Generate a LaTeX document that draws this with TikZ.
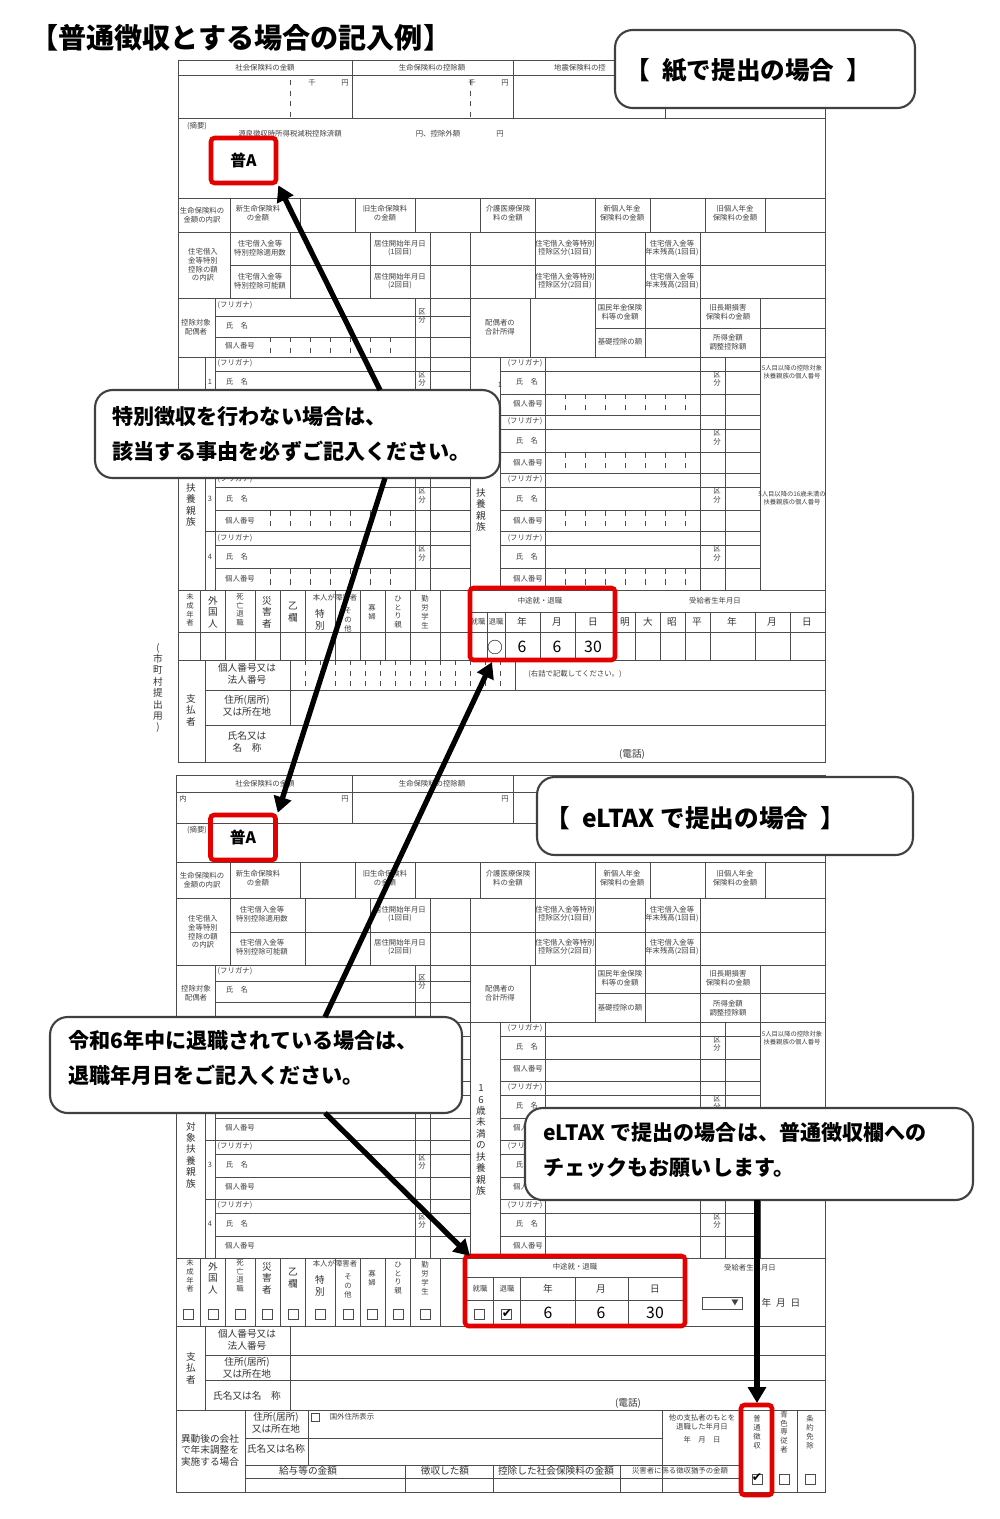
\documentclass[tikz,border=0pt]{standalone}
\usepackage{fontspec}
\setmainfont{Noto Sans CJK JP}
\newfontfamily\symfont{DejaVu Sans}
\usetikzlibrary{arrows.meta}
\begin{document}
\begin{tikzpicture}[x=0.02cm,y=-0.02cm,
  fl/.style={draw=black!70,line width=0.4pt},
  ft/.style={font=\fontsize{4.2}{5}\selectfont,text=black!75,inner sep=0pt},
  fs/.style={font=\fontsize{5.5}{6.5}\selectfont,text=black!80,inner sep=0pt},
  redbox/.style={draw=red!90!black,line width=2.6pt,rounded corners=2pt},
  callout/.style={draw=black!75,line width=1.2pt,fill=white,rounded corners=10pt},
  ctext/.style={font=\fontsize{12}{20}\selectfont\bfseries,align=left,anchor=west,inner sep=0pt},
  chk/.style={font=\symfont\fontsize{7}{8}\selectfont,inner sep=0pt},
  arr/.style={line width=3pt,-{Triangle[length=9pt,width=10pt]}}]
\useasboundingbox (0,0) rectangle (1000,1519);
\node[anchor=west,font=\fontsize{16}{18}\selectfont\bfseries,inner sep=0pt] (title) at (30,38) {【普通徴収とする場合の記入例】};

% ================= UPPER FORM =================
\draw[fl] (178,60) rectangle (825,762);
\foreach \y in {75,118,198,232,298,357,590,660} \draw[fl] (178,\y) -- (825,\y);
\draw[fl] (230,265) -- (825,265);
\foreach \x in {352,513,665} \draw[fl] (\x,60) -- (\x,118);
\foreach \x in {290,470} \draw[fl,dashed] (\x,80) -- (\x,118);
\node[ft] at (265,68) {社会保険料の金額};
\node[ft] at (432,68) {生命保険料の控除額};
\node[ft] at (580,68) {地震保険料の控};
\node[ft] at (312,83) {千}; \node[ft] at (345,83) {円};
\node[ft] at (472,83) {千}; \node[ft] at (505,83) {円};
\node[ft] at (197,126) {(摘要)};
\node[ft] at (290,134) {源泉徴収時所得税減税控除済額};
\node[ft] at (438,134) {円、控除外額};
\node[ft] at (500,134) {円};
\foreach \x in {230,300,355,415,480,535,595,650,705,765} \draw[fl] (\x,198) -- (\x,232);
\node[ft,align=center] at (202,215) {生命保険料の\\金額の内訳};
\node[ft,align=center] at (258,213) {新生命保険料\\の金額};
\node[ft,align=center] at (385,213) {旧生命保険料\\の金額};
\node[ft,align=center] at (508,213) {介護医療保険\\料の金額};
\node[ft,align=center] at (622,213) {新個人年金\\保険料の金額};
\node[ft,align=center] at (735,213) {旧個人年金\\保険料の金額};
\foreach \x in {230,290,370,430,470,535,595,645,700} \draw[fl] (\x,232) -- (\x,298);
\node[ft,align=center] at (203,265) {住宅借入\\金等特別\\控除の額\\の内訳};
\node[ft,align=center] at (260,248) {住宅借入金等\\特別控除適用数};
\node[ft,align=center] at (260,281) {住宅借入金等\\特別控除可能額};
\node[ft,align=center] at (400,248) {居住開始年月日\\(1回目)};
\node[ft,align=center] at (400,281) {居住開始年月日\\(2回目)};
\node[ft,align=center] at (565,248) {住宅借入金等特別\\控除区分(1回目)};
\node[ft,align=center] at (565,281) {住宅借入金等特別\\控除区分(2回目)};
\node[ft,align=center] at (672,248) {住宅借入金等\\年末残高(1回目)};
\node[ft,align=center] at (672,281) {住宅借入金等\\年末残高(2回目)};
\foreach \x in {215,415,430,470,530,595,645,700,760} \draw[fl] (\x,298) -- (\x,357);
\foreach \y in {316,337} \draw[fl] (215,\y) -- (470,\y);
\draw[fl] (595,328) -- (825,328);
\node[ft,align=center] at (196,327) {控除対象\\配偶者};
\node[ft] at (235,305) {(フリガナ)};
\node[ft] at (237,326) {氏\quad 名};
\node[ft] at (240,346) {個人番号};
\node[ft,align=center] at (422,316) {区\\分};
\node[ft,align=center] at (500,327) {配偶者の\\合計所得};
\node[ft,align=center] at (620,312) {国民年金保険\\料等の金額};
\node[ft] at (620,342) {基礎控除の額};
\node[ft,align=center] at (728,312) {旧長期損害\\保険料の金額};
\node[ft,align=center] at (728,342) {所得金額\\調整控除額};
\foreach \x in {270,290,310,330,350,370,390} \draw[fl,dashed] (\x,337) -- (\x,357);
\foreach \x in {205,215,415,430,470,500,545,700,725,760} \draw[fl] (\x,357) -- (\x,590);
\foreach \k in {0,1,2,3}{
  \pgfmathsetmacro\yy{357+58.25*\k}
  \draw[fl] (215,\yy+14) -- (470,\yy+14);
  \draw[fl] (215,\yy+37) -- (470,\yy+37);
  \draw[fl] (205,\yy) -- (470,\yy);
  \draw[fl] (500,\yy+14) -- (760,\yy+14);
  \draw[fl] (500,\yy+37) -- (760,\yy+37);
  \draw[fl] (500,\yy) -- (760,\yy);
  \node[ft] at (525,\yy+6) {(フリガナ)};
  \node[ft] at (527,\yy+25) {氏\quad 名};
  \node[ft] at (528,\yy+47) {個人番号};
  \node[ft,align=center] at (717,\yy+22) {区\\分};
  \foreach \x in {270,290,310,330,350,370,390} \draw[fl,dashed] (\x,\yy+37) -- (\x,\yy+58);
  \foreach \x in {565,585,605,625,645,665,685} \draw[fl,dashed] (\x,\yy+37) -- (\x,\yy+58);
}
\foreach \k in {2,3}{
  \pgfmathsetmacro\yy{357+58.25*\k}
  \node[ft] at (235,\yy+6) {(フリガナ)};
  \node[ft] at (237,\yy+25) {氏\quad 名};
  \node[ft] at (240,\yy+47) {個人番号};
  \node[ft,align=center] at (422,\yy+22) {区\\分};
  \node[ft] at (210,\yy+25) {\pgfmathparse{int(\k+1)}\pgfmathresult};
}
\node[ft] at (235,363) {(フリガナ)};
\node[ft] at (237,382) {氏\quad 名};
\node[ft] at (210,382) {1};
\node[ft,align=center] at (422,379) {区\\分};
\node[ft,align=center] at (500,385) {1};
\node[font=\fontsize{3.6}{4.5}\selectfont,text=black!75,inner sep=0pt,align=center] at (792,372) {5人目以降の控除対象\\扶養親族の個人番号};
\node[font=\fontsize{3.6}{4.5}\selectfont,text=black!75,inner sep=0pt,align=center] at (792,498) {5人目以降の16歳未満の\\扶養親族の個人番号};
\node[fs,align=center] at (191,505) {扶\\養\\親\\族};
\node[fs,align=center] at (481,510) {扶\\養\\親\\族};
\foreach \x in {200,225,255,280,305,335,360,385,410,440,470,615} \draw[fl] (\x,590) -- (\x,660);
\draw[fl] (178,632) -- (825,632);
\node[ft,align=center] at (190,610) {未\\成\\年\\者};
\node[fs,align=center] at (213,612) {外\\国\\人};
\node[ft,align=center] at (240,610) {死\\亡\\退\\職};
\node[fs,align=center] at (267,612) {災\\害\\者};
\node[fs,align=center] at (293,612) {乙\\欄};
\node[ft,align=center] at (335,598) {本人が障害者};
\node[fs,align=center] at (320,620) {特\\別};
\node[ft,align=center] at (348,620) {そ\\の\\他};
\node[ft,align=center] at (372,612) {寡\\婦};
\node[ft,align=center] at (398,612) {ひ\\と\\り\\親};
\node[ft,align=center] at (425,612) {勤\\労\\学\\生};
\foreach \x in {487,505,540,575,615,635,660,685,710,755,790} \draw[fl] (\x,612) -- (\x,660);
\draw[fl] (470,612) -- (825,612);
\node[ft] at (540,601) {中途就・退職};
\node[ft] at (715,601) {受給者生年月日};
\node[ft] at (478,622) {就職}; \node[ft] at (496,622) {退職};
\foreach \t/\x in {年/522,月/557,日/593,明/625,大/648,昭/672,平/697,年/732,月/772,日/807} \node[fs] at (\x,622) {\t};
\node[font=\fontsize{9}{10}\selectfont,inner sep=0pt] at (495,647) {○};
\node[font=\fontsize{9}{10}\selectfont,inner sep=0pt] at (522,647) {6};
\node[font=\fontsize{9}{10}\selectfont,inner sep=0pt] at (557,647) {6};
\node[font=\fontsize{9}{10}\selectfont,inner sep=0pt] at (593,647) {30};
\draw[fl] (205,660) -- (205,762);
\draw[fl] (290,660) -- (290,725);
\draw[fl] (205,690) -- (825,690);
\draw[fl] (205,725) -- (825,725);
\draw[fl] (515,660) -- (515,690);
\foreach \x in {305,320,335,350,365,380,395,410,425,440,455,470,485,500} \draw[fl,dashed] (\x,660) -- (\x,690);
\node[fs,align=center] at (191,710) {支\\払\\者};
\node[fs,align=center] at (247,674) {個人番号又は\\法人番号};
\node[fs,align=center] at (247,706) {住所(居所)\\又は所在地};
\node[fs,align=center] at (247,742) {氏名又は\\名\quad 称};
\node[ft] at (575,674) {(右詰で記載してください。)};
\node[fs] at (632,754) {(電話)};
\node[fs,align=center] at (158,688) {(\\市\\町\\村\\提\\出\\用\\)};

% ================= LOWER FORM =================
\draw[fl] (176,775) -- (825,775) -- (825,1492) -- (176,1492) -- cycle;
\foreach \y in {792,823,862,898,965,1022,1258,1326,1410} \draw[fl] (176,\y) -- (825,\y);
\draw[fl] (230,932) -- (825,932);
\draw[fl] (352,775) -- (352,823); \draw[fl] (513,775) -- (513,823);
\node[ft] at (265,784) {社会保険料の金額};
\node[ft] at (432,784) {生命保険料の控除額};
\node[ft] at (183,799) {内}; \node[ft] at (345,799) {円}; \node[ft] at (505,799) {円};
\node[ft] at (197,830) {(摘要)};
\foreach \x in {230,300,355,415,480,535,595,650,705,765} \draw[fl] (\x,862) -- (\x,898);
\node[ft,align=center] at (202,880) {生命保険料の\\金額の内訳};
\node[ft,align=center] at (258,878) {新生命保険料\\の金額};
\node[ft,align=center] at (385,878) {旧生命保険料\\の金額};
\node[ft,align=center] at (508,878) {介護医療保険\\料の金額};
\node[ft,align=center] at (622,878) {新個人年金\\保険料の金額};
\node[ft,align=center] at (735,878) {旧個人年金\\保険料の金額};
\foreach \x in {230,305,370,430,470,535,595,645,700} \draw[fl] (\x,898) -- (\x,965);
\node[ft,align=center] at (203,932) {住宅借入\\金等特別\\控除の額\\の内訳};
\node[ft,align=center] at (262,914) {住宅借入金等\\特別控除適用数};
\node[ft,align=center] at (262,947) {住宅借入金等\\特別控除可能額};
\node[ft,align=center] at (400,914) {居住開始年月日\\(1回目)};
\node[ft,align=center] at (400,947) {居住開始年月日\\(2回目)};
\node[ft,align=center] at (565,914) {住宅借入金等特別\\控除区分(1回目)};
\node[ft,align=center] at (565,947) {住宅借入金等特別\\控除区分(2回目)};
\node[ft,align=center] at (672,914) {住宅借入金等\\年末残高(1回目)};
\node[ft,align=center] at (672,947) {住宅借入金等\\年末残高(2回目)};
\foreach \x in {215,415,430,470,530,595,645,700,760} \draw[fl] (\x,965) -- (\x,1022);
\foreach \y in {981,1002} \draw[fl] (215,\y) -- (470,\y);
\draw[fl] (595,993) -- (825,993);
\node[ft,align=center] at (196,993) {控除対象\\配偶者};
\node[ft] at (235,971) {(フリガナ)};
\node[ft] at (237,990) {氏\quad 名};
\node[ft,align=center] at (422,982) {区\\分};
\node[ft,align=center] at (500,993) {配偶者の\\合計所得};
\node[ft,align=center] at (620,978) {国民年金保険\\料等の金額};
\node[ft] at (620,1008) {基礎控除の額};
\node[ft,align=center] at (728,978) {旧長期損害\\保険料の金額};
\node[ft,align=center] at (728,1008) {所得金額\\調整控除額};
\foreach \x in {205,215,415,430,470,500,545,700,725,760} \draw[fl] (\x,1022) -- (\x,1258);
\foreach \k in {0,1,2,3}{
  \pgfmathsetmacro\yy{1022+59*\k}
  \draw[fl] (215,\yy+14) -- (470,\yy+14);
  \draw[fl] (215,\yy+37) -- (470,\yy+37);
  \draw[fl] (205,\yy) -- (470,\yy);
  \draw[fl] (500,\yy+14) -- (760,\yy+14);
  \draw[fl] (500,\yy+37) -- (760,\yy+37);
  \draw[fl] (500,\yy) -- (760,\yy);
  \node[ft] at (525,\yy+6) {(フリガナ)};
  \node[ft] at (527,\yy+25) {氏\quad 名};
  \node[ft] at (528,\yy+47) {個人番号};
  \node[ft,align=center] at (717,\yy+22) {区\\分};
}
\foreach \k in {2,3}{
  \pgfmathsetmacro\yy{1022+59*\k}
  \node[ft] at (235,\yy+6) {(フリガナ)};
  \node[ft] at (237,\yy+25) {氏\quad 名};
  \node[ft] at (240,\yy+47) {個人番号};
  \node[ft,align=center] at (422,\yy+22) {区\\分};
  \node[ft] at (210,\yy+25) {\pgfmathparse{int(\k+1)}\pgfmathresult};
}
\node[ft] at (240,1128) {個人番号};
\node[font=\fontsize{3.6}{4.5}\selectfont,text=black!75,inner sep=0pt,align=center] at (792,1038) {5人目以降の控除対象\\扶養親族の個人番号};
\node[fs,align=center] at (191,1155) {対\\象\\扶\\養\\親\\族};
\node[fs,align=center] at (481,1140) {1\\6\\歳\\未\\満\\の\\扶\\養\\親\\族};
\foreach \x in {200,225,255,280,305,335,360,385,410,440,465,685} \draw[fl] (\x,1258) -- (\x,1326);
\node[ft,align=center] at (190,1276) {未\\成\\年\\者};
\node[fs,align=center] at (213,1278) {外\\国\\人};
\node[ft,align=center] at (240,1276) {死\\亡\\退\\職};
\node[fs,align=center] at (267,1278) {災\\害\\者};
\node[fs,align=center] at (293,1278) {乙\\欄};
\node[ft] at (335,1264) {本人が障害者};
\node[fs,align=center] at (320,1286) {特\\別};
\node[ft,align=center] at (348,1286) {そ\\の\\他};
\node[ft,align=center] at (372,1278) {寡\\婦};
\node[ft,align=center] at (398,1278) {ひ\\と\\り\\親};
\node[ft,align=center] at (425,1278) {勤\\労\\学\\生};
\foreach \x in {188,213,240,267,293,320,348,372,398,425} \draw[fl] (\x-5,1309) rectangle (\x+5,1319);
\draw[fl] (465,1277) -- (685,1277);
\draw[fl] (465,1300) -- (685,1300);
\foreach \x in {493,520,575,628} \draw[fl] (\x,1277) -- (\x,1326);
\node[ft] at (575,1267) {中途就・退職};
\node[ft] at (750,1268) {受給者生年月日};
\node[ft] at (480,1289) {就職}; \node[ft] at (507,1289) {退職};
\node[fs] at (548,1289) {年}; \node[fs] at (601,1289) {月}; \node[fs] at (655,1289) {日};
\draw[fl] (474,1309) rectangle (484,1319);
\draw[fl] (501,1309) rectangle (511,1319);
\node[chk] at (507,1314) {✔};
\node[font=\fontsize{9}{10}\selectfont,inner sep=0pt] at (548,1313) {6};
\node[font=\fontsize{9}{10}\selectfont,inner sep=0pt] at (601,1313) {6};
\node[font=\fontsize{9}{10}\selectfont,inner sep=0pt] at (655,1313) {30};
\draw[fl] (702,1297) rectangle (742,1309);
\node[ft] at (735,1303) {▼};
\node[fs] at (781,1303) {年\enspace 月\enspace 日};
\draw[fl] (205,1326) -- (205,1410);
\draw[fl] (290,1326) -- (290,1410);
\draw[fl] (205,1355) -- (825,1355);
\draw[fl] (205,1380) -- (825,1380);
\node[fs,align=center] at (191,1368) {支\\払\\者};
\node[fs,align=center] at (247,1340) {個人番号又は\\法人番号};
\node[fs,align=center] at (247,1368) {住所(居所)\\又は所在地};
\node[fs] at (247,1396) {氏名又は名\quad 称};
\node[fs] at (628,1403) {(電話)};
\draw[fl] (245,1410) -- (245,1492);
\draw[fl] (308,1410) -- (308,1465);
\draw[fl] (245,1438) -- (662,1438);
\draw[fl] (245,1465) -- (742,1465);
\draw[fl] (245,1478) -- (742,1478);
\foreach \x in {405,493,620,742,772,797} \draw[fl] (\x,1465) -- (\x,1492);
\foreach \x in {662,742,772,797} \draw[fl] (\x,1410) -- (\x,1492);
\node[fs,align=center] at (210,1450) {異動後の会社\\で年末調整を\\実施する場合};
\node[fs,align=center] at (276,1423) {住所(居所)\\又は所在地};
\node[fs] at (276,1449) {氏名又は名称};
\draw[fl] (311,1413) rectangle (319,1421);
\node[ft] at (352,1417) {国外住所表示};
\node[fs] at (308,1471) {給与等の金額};
\node[fs] at (445,1471) {徴収した額};
\node[fs] at (556,1471) {控除した社会保険料の金額};
\node[ft] at (680,1471) {災害者に係る徴収猶予の金額};
\node[ft,align=center] at (702,1422) {他の支払者のもとを\\退職した年月日};
\node[ft] at (702,1440) {年\quad 月\quad 日};
\node[ft,align=center] at (757,1432) {普\\通\\徴\\収};
\node[ft,align=center] at (784,1432) {青\\色\\専\\従\\者};
\node[ft,align=center] at (810,1432) {条\\約\\免\\除};
\draw[fl] (752,1474) rectangle (762,1484);
\node[chk] at (757,1478) {✔};
\draw[fl] (779,1474) rectangle (789,1484);
\draw[fl] (805,1474) rectangle (815,1484);

% ================= RED BOXES =================
\node[redbox,minimum width=1.3cm,minimum height=0.9cm,font=\fontsize{9}{10}\selectfont\bfseries] (fuA1) at (243.5,160.5) {普A};
\node[redbox,minimum width=1.3cm,minimum height=0.9cm,font=\fontsize{9}{10}\selectfont\bfseries] (fuA2) at (243,837.5) {普A};
\draw[redbox] (470,588) rectangle (615,660);
\coordinate (rb1) at (492,662);
\draw[redbox] (465,1256) rectangle (685,1326);
\coordinate (rb2) at (470,1256);
\draw[redbox] (741,1405) rectangle (772,1495);
\coordinate (rb3) at (757,1403);

% ================= CALLOUTS =================
\node[callout,minimum width=6cm,minimum height=1.56cm] (cPaper) at (765,69) {};
\node[font=\fontsize{14}{16}\selectfont\bfseries,anchor=west,inner sep=0pt] at (625,71) {【\enspace 紙で提出の場合\enspace 】};
\node[callout,minimum width=8.1cm,minimum height=1.76cm] (cTok) at (297.5,434) {};
\node[ctext] at (112,434) {特別徴収を行わない場合は、\\該当する事由を必ずご記入ください。};
\node[callout,minimum width=7.52cm,minimum height=1.56cm] (cEl) at (725,816) {};
\node[font=\fontsize{14}{16}\selectfont\bfseries,anchor=west,inner sep=0pt] at (545,818) {【\enspace eLTAX で提出の場合\enspace 】};

\coordinate (a1) at (380,390);
\coordinate (a2) at (385,478);
\draw[arr] (a1) -- (fuA1.south east);
\draw[arr] (a2) -- (fuA2.north east);

\node[callout,minimum width=8.24cm,minimum height=1.92cm] (cRet) at (256,1065) {};
\node[ctext] at (68,1058) {令和6年中に退職されている場合は、\\退職年月日をご記入ください。};
\coordinate (b1) at (325,1017);
\coordinate (b2) at (325,1113);
\draw[arr] (b1) -- (rb1);
\draw[arr] (b2) -- (rb2);

\node[callout,minimum width=8.96cm,minimum height=1.84cm] (cChk) at (749,1154) {};
\node[ctext] at (543,1150) {eLTAX で提出の場合は、普通徴収欄への\\チェックもお願いします。};
\coordinate (d1) at (757,1200);
\draw[arr] (d1) -- (rb3);
\end{tikzpicture}
\end{document}
